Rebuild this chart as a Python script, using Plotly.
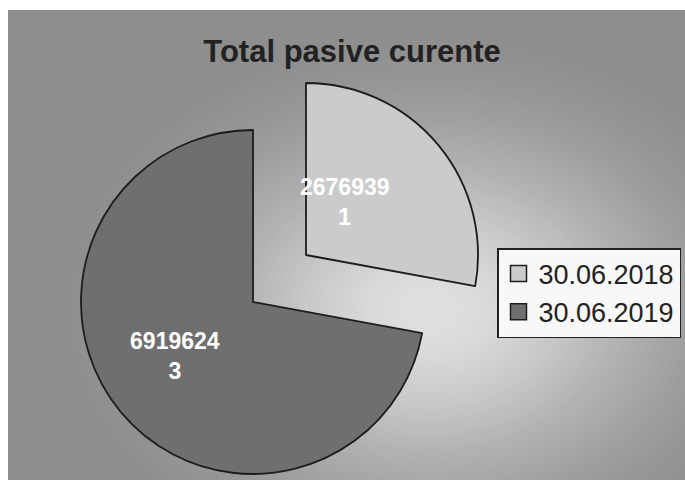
import math
import plotly.graph_objects as go

# ---- data ----
categories = ["30.06.2018", "30.06.2019"]
values = [26769391, 69196243]
title_text = "Total pasive curente"

# ---- styles ----
slice_colors = ["#cbcbcb", "#6f6f6f"]
edge_color = "#1c1c1c"
transparent = "rgba(0,0,0,0)"
W, H = 685, 486

# label text wraps the last digit onto its own line, as in the original
label_text = [f"{str(v)[:-1]}<br>{str(v)[-1]}" for v in values]
label_font = dict(color="white", size=23, family="Liberation Sans", weight="bold")


def dom(cx, cy, r):
    return dict(x=[(cx - r) / W, (cx + r) / W], y=[(H - cy - r) / H, (H - cy + r) / H])


fig = go.Figure()

# dark (main) slice
fig.add_trace(go.Pie(
    labels=categories, values=values, sort=False, direction="clockwise",
    marker=dict(colors=[transparent, slice_colors[1]],
                line=dict(color=edge_color, width=[0, 1.8])),
    textinfo="none",
    domain=dom(253, 302, 172), showlegend=False, hoverinfo="label+value",
))
# exploded light slice
fig.add_trace(go.Pie(
    labels=categories, values=values, sort=False, direction="clockwise",
    marker=dict(colors=[slice_colors[0], transparent],
                line=dict(color=edge_color, width=[1.8, 0])),
    textinfo="none",
    domain=dom(306, 255, 172), showlegend=False, hoverinfo="label+value",
))
# text layers (transparent pies that position the slice labels)
fig.add_trace(go.Pie(
    labels=categories, values=values, sort=False, direction="clockwise",
    marker=dict(colors=[transparent, transparent], line=dict(width=0)),
    text=[label_text[0], ""], textinfo="text", textposition="inside",
    insidetextorientation="horizontal", textfont=label_font,
    domain=dom(270, 264, 172), showlegend=False, hoverinfo="skip",
))
fig.add_trace(go.Pie(
    labels=categories, values=values, sort=False, direction="clockwise",
    marker=dict(colors=[transparent, transparent], line=dict(width=0)),
    text=["", label_text[1]], textinfo="text", textposition="inside",
    insidetextorientation="horizontal", textfont=label_font,
    domain=dom(241, 301, 172), showlegend=False, hoverinfo="skip",
))

# legend entries
for name, col in zip(categories, slice_colors):
    fig.add_trace(go.Scatter(
        x=[None], y=[None], mode="markers", name=name,
        marker=dict(symbol="square", size=16, color=col,
                    line=dict(color=edge_color, width=1.5)),
    ))

# background: grey panel with soft radial glow
shapes = [dict(type="rect", xref="paper", yref="paper", x0=8 / W, x1=1,
               y0=(H - 480) / H, y1=1 - 10 / H, fillcolor="#8e8e8e",
               line=dict(width=0), layer="below")]
gcx, gcy, grx, gry = 430, 310, 440, 330
n = 60
wmax, sig = 0.82, 0.58
edge = math.exp(-(1 / sig) ** 2)
prev = 0.0
for k in range(n):
    f = 1 - k / n
    target = wmax * (math.exp(-(f / sig) ** 2) - edge) / (1 - edge)
    a = 1 - (1 - target) / (1 - prev)
    prev = target
    shapes.append(dict(type="circle", xref="paper", yref="paper",
                       x0=(gcx - grx * f) / W, x1=(gcx + grx * f) / W,
                       y0=1 - (gcy + gry * f) / H, y1=1 - (gcy - gry * f) / H,
                       fillcolor="white", opacity=max(a, 0.0), line=dict(width=0),
                       layer="below"))

fig.update_layout(
    width=W, height=H,
    margin=dict(l=0, r=0, t=0, b=0),
    paper_bgcolor="white", plot_bgcolor=transparent,
    shapes=shapes,
    title=dict(text=title_text, x=352 / W, xanchor="center",
               y=1 - 51 / H, yanchor="middle", yref="container",
               font=dict(family="Liberation Sans", size=31, color="#222222",
                         weight="bold")),
    legend=dict(x=497 / W, xanchor="left", y=1 - 248 / H, yanchor="top",
                bgcolor="#f8f8f8", bordercolor="#222222", borderwidth=1.5,
                font=dict(family="Liberation Sans", size=27, color="#222222"),
                itemclick=False),
    xaxis=dict(visible=False), yaxis=dict(visible=False),
)

fig.write_html("out.html", config={"displayModeBar": False},
               post_script="document.body.style.margin='0';")
